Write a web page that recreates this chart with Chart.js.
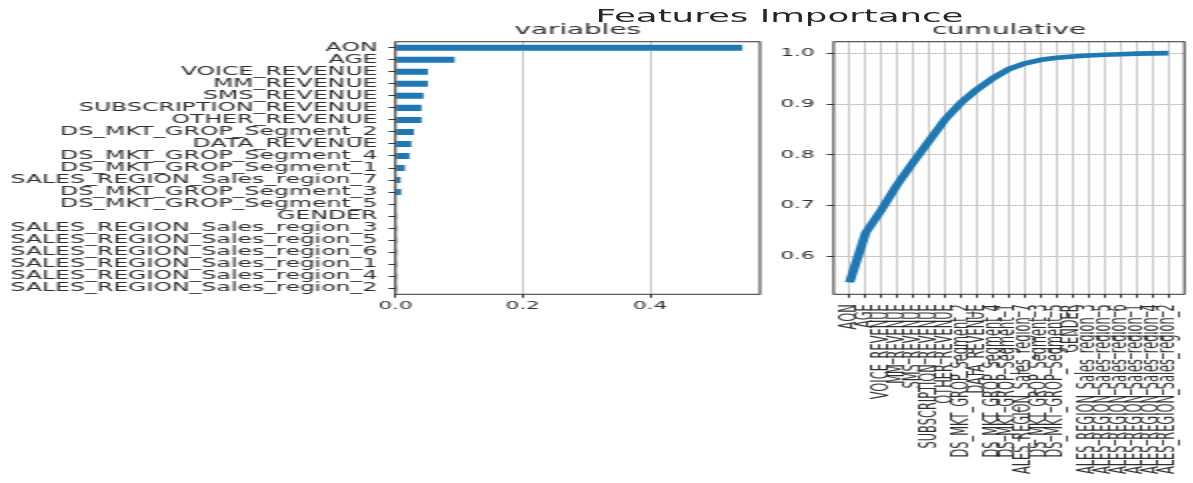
<!DOCTYPE html>
<html>
<head>
<meta charset="utf-8">
<title>Features Importance</title>
<script src="https://cdn.jsdelivr.net/npm/chart.js@4.4.1/dist/chart.umd.min.js"></script>
<style>
  html, body { margin: 0; padding: 0; background: #fff; width: 1193px; height: 483px; overflow: hidden; }
  /* the figure is laid out at half width and stretched 2x horizontally */
  #figure { position: absolute; left: 0; top: 0; width: 605px; height: 483px; transform: scaleX(2); transform-origin: 0 0; }
  #suptitle { position: absolute; left: 239.75px; width: 300px; top: 6.6px; text-align: center;
              font-family: "DejaVu Sans", sans-serif; font-size: 17.8px; line-height: 17.8px; color: #262626; white-space: nowrap; }
  canvas { position: absolute; top: 0; }
  #imp { left: 0; }
  #cum { left: 385px; }
</style>
</head>
<body>
<div id="figure">
  <div id="suptitle">Features Importance</div>
  <canvas id="imp" width="400" height="483"></canvas>
  <canvas id="cum" width="220" height="483"></canvas>
</div>
<script>
// feature names, most important first
const categories = [
  'AON', 'AGE', 'VOICE_REVENUE', 'MM_REVENUE', 'SMS_REVENUE', 'SUBSCRIPTION_REVENUE',
  'OTHER_REVENUE', 'DS_MKT_GROP_Segment_2', 'DATA_REVENUE', 'DS_MKT_GROP_Segment_4',
  'DS_MKT_GROP_Segment_1', 'SALES_REGION_Sales_region_7', 'DS_MKT_GROP_Segment_3',
  'DS_MKT_GROP_Segment_5', 'GENDER', 'SALES_REGION_Sales_region_3', 'SALES_REGION_Sales_region_5',
  'SALES_REGION_Sales_region_6', 'SALES_REGION_Sales_region_1', 'SALES_REGION_Sales_region_4',
  'SALES_REGION_Sales_region_2'
];

// importance of each feature
const importance = [
  0.545, 0.093, 0.051, 0.051, 0.044, 0.041, 0.041, 0.029, 0.025, 0.022,
  0.015, 0.008, 0.009, 0.0015, 0.001, 0.0005, 0.0004, 0.0003, 0.0003, 0.0002, 0.0001
];

// running total of importance
const cumulative = [
  0.549, 0.646, 0.692, 0.742, 0.786, 0.828, 0.870, 0.903, 0.929, 0.951,
  0.969, 0.980, 0.987, 0.991, 0.9935, 0.9955, 0.997, 0.998, 0.999, 0.9995, 1.0
];

// tick labels
const importanceTicks = [0.0, 0.2, 0.4];
const cumulativeTicks = [0.6, 0.7, 0.8, 0.9, 1.0];

// axis limits
const importanceRange = [0, 0.5727];
const cumulativeRange = [0.5254, 1.0226];

const FONT = 'DejaVu Sans';
const TEXT = '#2e2e2e';
const GRID = '#c8c8c8';
const SPINE = '#333333';
const BLUE = '#1f77b4';

Chart.defaults.font.family = FONT;
Chart.defaults.color = TEXT;

// box around the plotting area (all four spines)
const frame = {
  id: 'frame',
  afterDatasetsDraw(chart) {
    const { ctx, chartArea: a } = chart;
    ctx.save();
    ctx.strokeStyle = SPINE;
    ctx.lineWidth = 1;
    ctx.strokeRect(a.left, a.top, a.right - a.left, a.bottom - a.top);
    ctx.restore();
  }
};

const subtitle = (text) => ({
  display: true, text, fullSize: false, color: TEXT,
  font: { family: FONT, size: 13.9, weight: 'normal' },
  padding: { top: 0, bottom: 3.2 }
});

// horizontal bars: importance per feature
new Chart(document.getElementById('imp'), {
  type: 'bar',
  data: {
    labels: categories,
    datasets: [{
      data: importance,
      backgroundColor: BLUE,
      barPercentage: 0.5,
      categoryPercentage: 1.0
    }]
  },
  options: {
    indexAxis: 'y',
    responsive: false,
    animation: false,
    devicePixelRatio: 1,
    layout: { padding: { left: 0, top: 21.85, right: 20, bottom: 158.7 } },
    plugins: {
      legend: { display: false },
      tooltip: { enabled: false },
      title: subtitle('variables')
    },
    scales: {
      x: {
        type: 'linear',
        min: importanceRange[0],
        max: importanceRange[1],
        afterBuildTicks: (s) => { s.ticks = importanceTicks.map(v => ({ value: v })); },
        afterFit: (s) => { s.height = 30; },
        border: { display: false },
        grid: { color: GRID, lineWidth: 1, tickColor: SPINE, tickLength: 3.5, drawTicks: true },
        ticks: { font: { size: 10.8 }, padding: 2, callback: (v) => Number(v).toFixed(1) }
      },
      y: {
        afterFit: (s) => { s.width = 197.75; },
        border: { display: false },
        grid: { drawOnChartArea: false, offset: false, tickColor: SPINE, tickLength: 3.5 },
        ticks: { font: { size: 11.8 }, padding: 5.5, autoSkip: false }
      }
    }
  },
  plugins: [frame]
});

// cumulative importance line
new Chart(document.getElementById('cum'), {
  type: 'line',
  data: {
    datasets: [{
      data: categories.map((c, i) => ({ x: i, y: cumulative[i] })),
      borderColor: BLUE,
      borderWidth: 4.7,
      borderCapStyle: 'butt',
      borderJoinStyle: 'round',
      pointRadius: 0,
      tension: 0,
      fill: false
    }]
  },
  options: {
    responsive: false,
    animation: false,
    devicePixelRatio: 1,
    layout: { padding: { left: 0, top: 21.85, right: 6.1, bottom: 8.7 } },
    plugins: {
      legend: { display: false },
      tooltip: { enabled: false },
      title: subtitle('cumulative')
    },
    scales: {
      x: {
        type: 'linear',
        min: -1,
        max: categories.length,
        afterBuildTicks: (s) => { s.ticks = categories.map((c, i) => ({ value: i })); },
        afterFit: (s) => { s.height = 180; },
        border: { display: false },
        grid: { color: GRID, lineWidth: 1, tickColor: SPINE, tickLength: 3.5 },
        ticks: {
          font: { size: 11.4 }, padding: 6.5, autoSkip: false,
          minRotation: 90, maxRotation: 90,
          callback: (v) => categories[v]
        }
      },
      y: {
        min: cumulativeRange[0],
        max: cumulativeRange[1],
        afterBuildTicks: (s) => { s.ticks = cumulativeTicks.map(v => ({ value: v })); },
        afterFit: (s) => { s.width = 31.85; },
        border: { display: false },
        grid: { color: GRID, lineWidth: 1, tickColor: SPINE, tickLength: 3.5 },
        ticks: { font: { size: 10.8 }, padding: 6, callback: (v) => Number(v).toFixed(1) }
      }
    }
  },
  plugins: [frame]
});
</script>
</body>
</html>
